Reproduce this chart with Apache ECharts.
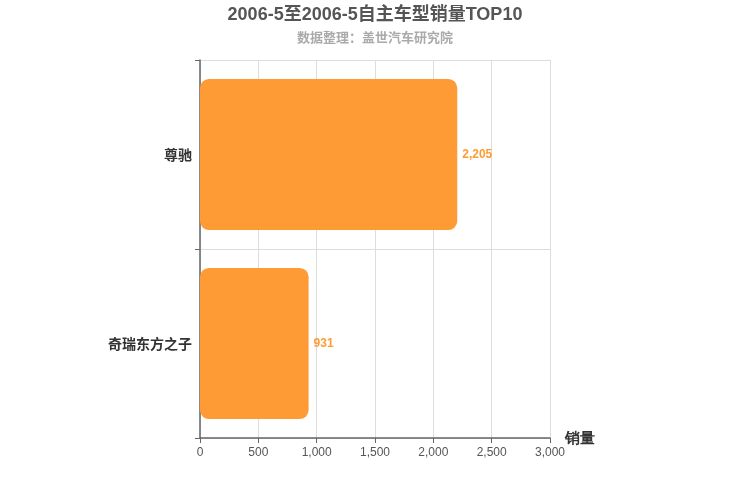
<!DOCTYPE html>
<html><head><meta charset="utf-8">
<script src="https://cdn.jsdelivr.net/npm/echarts@6/dist/echarts.min.js"></script>
<style>html,body{margin:0;padding:0;background:#fff}#c{width:750px;height:500px}</style>
</head><body><div id="c"></div>
<script>
const categories = ['尊驰', '奇瑞东方之子'];
const sales = [2205, 931];
const xTicks = [0, 500, 1000, 1500, 2000, 2500, 3000];

const chart = echarts.init(document.getElementById('c'));
chart.setOption({
  animation: false,
  title: {
    text: '2006-5至2006-5自主车型销量TOP10',
    subtext: '数据整理：盖世汽车研究院',
    left: 'center', top: 1, itemGap: 7,
    textStyle: {fontSize: 18, fontWeight: 'bold', color: '#555', fontFamily: 'Liberation Sans, Noto Sans CJK SC, sans-serif'},
    subtextStyle: {fontSize: 13, fontWeight: 'bold', color: '#aaa', fontFamily: 'Noto Sans CJK SC, sans-serif'}
  },
  grid: {left: 200, right: 200, top: 60, bottom: 62, containLabel: false},
  xAxis: {
    type: 'value', min: xTicks[0], max: xTicks[xTicks.length - 1], interval: 500,
    name: '销量', nameLocation: 'end', nameGap: 15,
    nameTextStyle: {fontSize: 15, fontWeight: 'bold', color: '#333', verticalAlign: 'top', padding: [-7, 0, 0, 0]},
    axisLine: {show: true, lineStyle: {color: '#666', width: 1.5}},
    axisTick: {show: true, length: 5, lineStyle: {color: '#666'}},
    axisLabel: {color: '#555', fontSize: 12, margin: 9, fontFamily: 'Liberation Sans, sans-serif'},
    splitLine: {show: true, lineStyle: {color: '#ddd'}}
  },
  yAxis: {
    type: 'category', data: categories, inverse: true,
    axisLine: {show: true, lineStyle: {color: '#666', width: 1.5}},
    axisTick: {show: true, length: 5, lineStyle: {color: '#666'}},
    axisLabel: {color: '#333', fontSize: 14, fontWeight: 'bold', margin: 8, fontFamily: 'Noto Sans CJK SC, sans-serif'},
    splitLine: {show: true, lineStyle: {color: '#ddd'}}
  },
  series: [{
    type: 'bar', data: sales, barWidth: '80%',
    itemStyle: {color: '#ff9b34', borderRadius: 9},
    label: {show: true, position: 'right', color: '#ff9b34', fontSize: 12, fontWeight: 'bold', fontFamily: 'Liberation Sans, sans-serif',
      formatter: p => p.value.toLocaleString('en-US')}
  }]
});
</script></body></html>
